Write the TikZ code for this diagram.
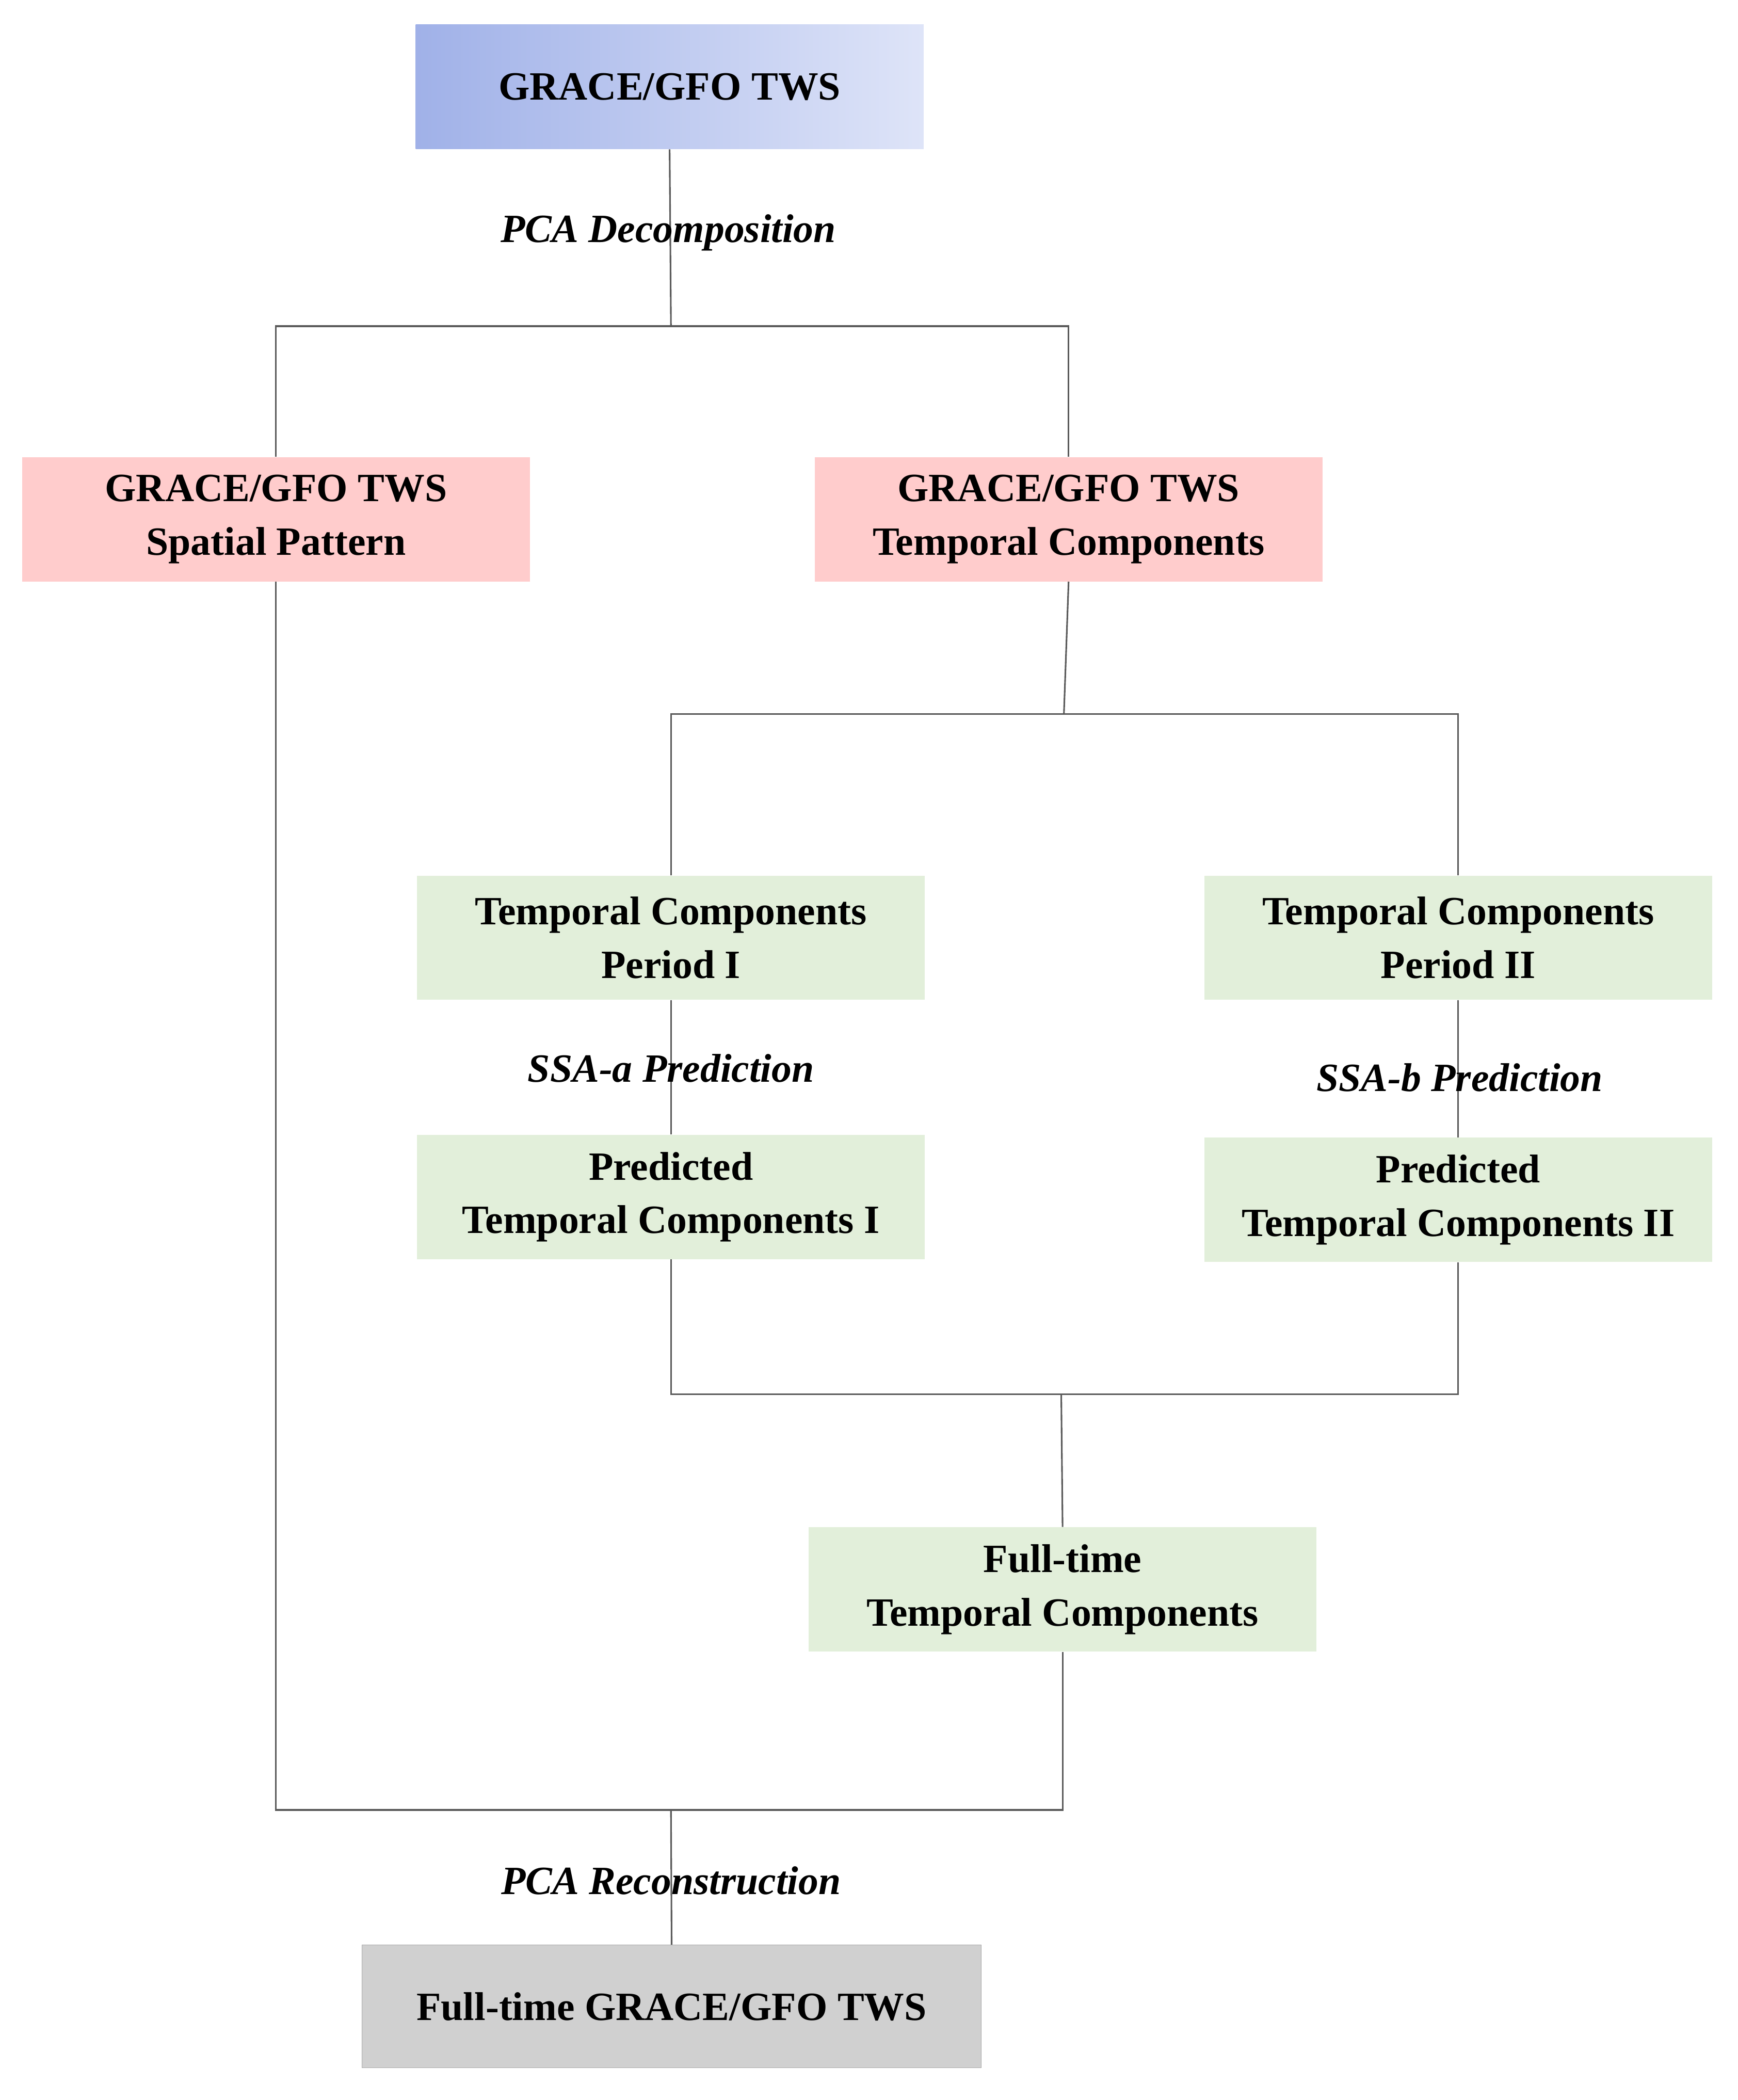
\documentclass[tikz,border=0pt]{standalone}
\usepackage{fontspec}
\setmainfont{Liberation Serif}
\begin{document}
\begin{tikzpicture}[x=1pt,y=-1pt,
  box/.style={minimum width=380pt,minimum height=93pt,inner sep=0pt,align=center,font=\fontsize{30}{40}\selectfont\bfseries},
  pink/.style={box,fill={rgb,255:red,255;green,204;blue,204}},
  green/.style={box,fill={rgb,255:red,226;green,239;blue,218}},
  lab/.style={font=\fontsize{30}{36}\selectfont\bfseries\itshape},
  ln/.style={draw={rgb,255:red,90;green,90;blue,90},line width=1.2pt}]
\useasboundingbox (0,0) rectangle (1300,1571);
\node[box,left color={rgb,255:red,160;green,177;blue,232},right color={rgb,255:red,222;green,228;blue,248}] (top) at (501,65) {GRACE/GFO TWS};
\node[pink] (sp) at (206.5,388.5) {GRACE/GFO TWS\\Spatial Pattern};
\node[pink] (tc) at (799.5,388.5) {GRACE/GFO TWS\\Temporal Components};
\node[green] (p1) at (502,701.5) {Temporal Components\\Period I};
\node[green] (p2) at (1091,701.5) {Temporal Components\\Period II};
\node[green] (q1) at (502,895.5) {Predicted\\Temporal Components I};
\node[green] (q2) at (1091,897.5) {Predicted\\Temporal Components II};
\node[green] (ft) at (795,1189) {Full-time\\Temporal Components};
\node[box,minimum width=463pt,minimum height=92pt,fill={rgb,255:red,208;green,208;blue,208},draw={rgb,255:red,170;green,170;blue,170}] (fin) at (502.5,1501) {Full-time GRACE/GFO TWS};
\coordinate (j1) at (502,244);
\coordinate (j2) at (796,534);
\coordinate (j3) at (794,1043);
\coordinate (j4) at (502,1354);
\draw[ln] (top.south) -- (j1);
\draw[ln] (sp.north) |- (j1) -| (tc.north);
\draw[ln] (tc.south) -- (j2);
\draw[ln] (p1.north) |- (j2) -| (p2.north);
\draw[ln] (p1) -- (q1);
\draw[ln] (p2) -- (q2);
\draw[ln] (q1.south) |- (j3) -| (q2.south);
\draw[ln] (j3) -- (ft.north);
\draw[ln] (sp.south) |- (j4) -| (ft.south);
\draw[ln] (j4) -- (fin.north);
\node[lab] (l1) at (500,174) {PCA Decomposition};
\node[lab] (l2) at (502,799) {SSA-a Prediction};
\node[lab] (l3) at (1092,806) {SSA-b Prediction};
\node[lab] (l4) at (502,1407) {PCA Reconstruction};
\end{tikzpicture}
\end{document}
